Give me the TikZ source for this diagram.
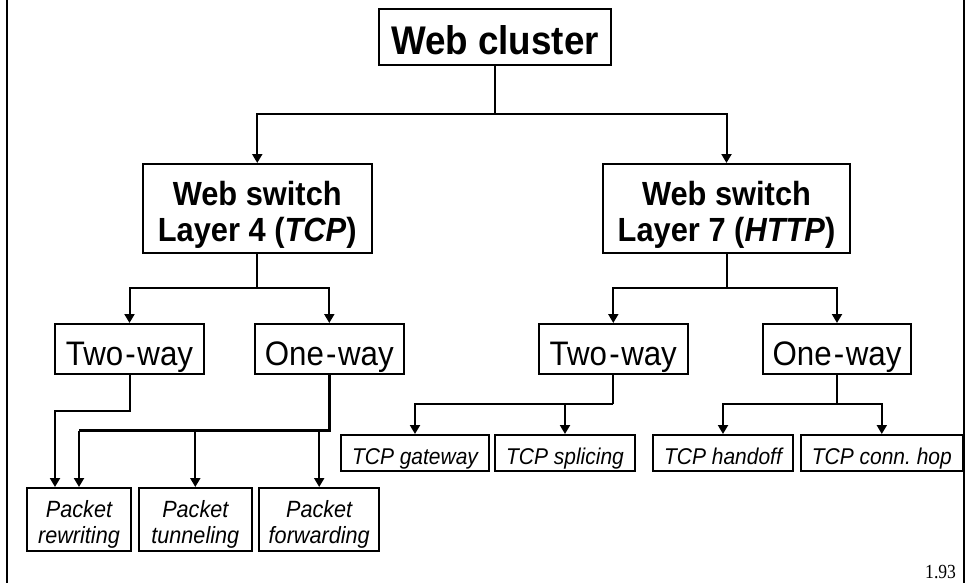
\documentclass[tikz,border=0pt]{standalone}
\usepackage{fontspec}
\setmainfont{Liberation Sans}[FakeStretch=0.92]
\newfontfamily\serifnum{Liberation Serif}[FakeStretch=0.88]
\usetikzlibrary{arrows.meta}
\frenchspacing
% two-line box text, baseline of the first line is the reference
\newcommand{\twolines}[2]{\begin{tabular}[t]{@{}c@{}}#1\\#2\end{tabular}}
\newcommand{\wayhyph}{\kern2.2pt-\kern1.6pt}
\begin{document}
\begin{tikzpicture}[x=1pt,y=-1pt,
  line width=2pt,
  box/.style={draw, rectangle, inner sep=0pt, anchor=center},
  bigbox/.style={box, text height=36pt, text depth=0pt,
    font=\fontsize{40}{46}\selectfont\bfseries},
  switchbox/.style={box, minimum height=89pt, text height=30pt, text depth=37pt,
    font=\fontsize{33.5}{36.7}\selectfont\bfseries},
  waybox/.style={box, minimum width=148.5pt, minimum height=50pt,
    text height=32pt, text depth=0pt, font=\fontsize{34}{38}\selectfont},
  pktbox/.style={box, minimum height=63pt, text height=20pt, text depth=24.4pt,
    font=\fontsize{23.5}{26}\selectfont\itshape},
  tcpbox/.style={box, minimum height=35.5pt, text height=23.5pt, text depth=0pt,
    font=\fontsize{22.8}{26}\selectfont\itshape},
  arr/.style={-{Triangle[length=9pt,width=10pt]}},
  wire/.style={line width=2pt}
]
\useasboundingbox (0,0) rectangle (966,583);

% side rules of the page
\draw[line width=2pt] (7,0) -- (7,583);
\draw[line width=2pt] (964,0) -- (964,583);

% root
\node[bigbox, minimum width=232pt, minimum height=56pt] (wc) at (495,37) {Web cluster};

% switches
\node[switchbox, minimum width=228.5pt] (l4) at (257.25,208.5)
  {\twolines{Web switch}{Layer 4 (\textit{TCP})}};
\node[switchbox, minimum width=247pt] (l7) at (726.5,208.5)
  {\twolines{Web switch}{Layer 7 (\textit{HTTP})}};

% way boxes
\node[waybox] (tw1) at (129.5,349) {Two\wayhyph way};
\node[waybox] (ow1) at (329.3,349) {One\wayhyph way};
\node[waybox] (tw2) at (613.3,349) {Two\wayhyph way};
\node[waybox] (ow2) at (837,349) {One\wayhyph way};

% layer 4 mechanisms
\node[pktbox, minimum width=104pt] (pr) at (79,519.5) {\twolines{Packet}{rewriting}};
\node[pktbox, minimum width=112.7pt] (pt) at (195.3,519.5) {\twolines{Packet}{tunneling}};
\node[pktbox, minimum width=120.3pt] (pf) at (319.2,519.5) {\twolines{Packet}{forwarding}};

% layer 7 mechanisms
\node[tcpbox, minimum width=148pt] (tg) at (415,452.75) {TCP gateway};
\node[tcpbox, minimum width=140pt] (ts) at (565,452.75) {TCP splicing};
\node[tcpbox, minimum width=140pt] (th) at (723,452.75) {TCP handoff};
\node[tcpbox, minimum width=162.4pt] (tch) at (881.8,452.75) {TCP conn. hop};

% page number
\node[anchor=base east, inner sep=0pt, font=\serifnum\fontsize{20}{21}\selectfont] (pg) at (957,578.5) {1.93};

% junction points
\coordinate (j0) at (495,114.5);
\coordinate (j4) at (257.25,288.3);
\coordinate (j7) at (726.5,288.3);
\coordinate (c1) at (55,410.5);
\coordinate (c2) at (79,430.5);
\coordinate (c3) at (613.3,404.3);
\coordinate (c4) at (837,404.3);

% root to switches
\draw[wire] (wc.south) -- (j0);
\draw[arr] (j0) -| (l4.north);
\draw[arr] (j0) -| (l7.north);

% switches to way boxes
\draw[wire] (l4.south) -- (j4);
\draw[arr] (j4) -| (tw1.north);
\draw[arr] (j4) -| (ow1.north);
\draw[wire] (l7.south) -- (j7);
\draw[arr] (j7) -| (tw2.north);
\draw[arr] (j7) -| (ow2.north);

% layer 4 two-way
\draw[arr] (tw1.south) |- (c1) -- (c1 |- pr.north);

% layer 4 one-way
\draw[line width=2.6pt] (ow1.south) |- (c2);
\draw[arr] (c2) -- (c2 |- pr.north);
\draw[arr] (pt.north |- c2) -- (pt.north);
\draw[arr] (pf.north |- c2) -- (pf.north);

% layer 7 two-way
\draw[wire] (tw2.south) -- (c3);
\draw[arr] (c3) -| (tg.north);
\draw[arr] (ts.north |- c3) -- (ts.north);

% layer 7 one-way
\draw[wire] (ow2.south) -- (c4);
\draw[arr] (c4) -| (th.north);
\draw[arr] (c4) -| (tch.north);
\end{tikzpicture}
\end{document}
